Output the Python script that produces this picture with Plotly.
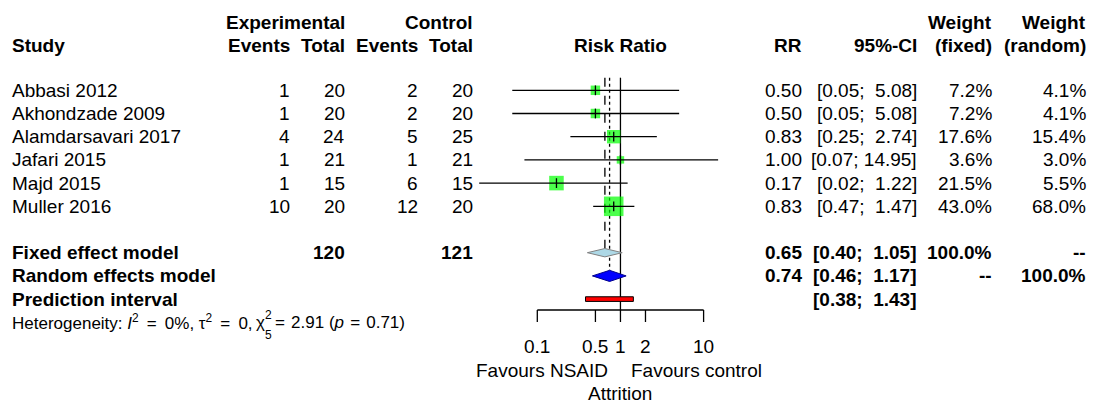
import math
import plotly.graph_objects as go

# ---- study-level data ----
studies = ["Abbasi 2012", "Akhondzade 2009", "Alamdarsavari 2017",
           "Jafari 2015", "Majd 2015", "Muller 2016"]
exp_events = [1, 1, 4, 1, 1, 10]
exp_total = [20, 20, 24, 21, 15, 20]
ctrl_events = [2, 2, 5, 1, 6, 12]
ctrl_total = [20, 20, 25, 21, 15, 20]
rr = [0.50, 0.50, 0.83, 1.00, 0.17, 0.83]
ci_low = [0.05, 0.05, 0.25, 0.07, 0.02, 0.47]
ci_high = [5.08, 5.08, 2.74, 14.95, 1.22, 1.47]
w_fixed = [7.2, 7.2, 17.6, 3.6, 21.5, 43.0]
w_random = [4.1, 4.1, 15.4, 3.0, 5.5, 68.0]

# ---- pooled estimates ----
fixed_rr, fixed_lo, fixed_hi = 0.65, 0.40, 1.05
random_rr, random_lo, random_hi = 0.74, 0.46, 1.17
pred_lo, pred_hi = 0.38, 1.43
fixed_exp_total, fixed_ctrl_total = 120, 121

# ---- scale ticks ----
tick_vals = [0.1, 0.5, 1, 2, 10]
tick_text = ["0.1", "0.5", "1", "2", "10"]

W, H = 1094, 403
Y0, DY = 90.3, 23.2          # pixel of first study row, row spacing
AX_L, AX_R = 537.3, 703.6    # pixel span of the 0.1 .. 10 scale


def row_of(px):
    return (px - Y0) / DY


FONT = "Liberation Sans, Arial, sans-serif"
FS = 19
BLACK = "black"

fig = go.Figure()

rows = list(range(len(studies)))

# vertical reference lines (no effect, fixed, random)
top = row_of(77.7)
axis_row = row_of(310)
fig.add_trace(go.Scatter(x=[1, 1], y=[top, axis_row], mode="lines",
                         line=dict(color=BLACK, width=1.3), hoverinfo="skip"))
fig.add_trace(go.Scatter(x=[fixed_rr, fixed_rr], y=[top, 7 - 0.18], mode="lines",
                         line=dict(color=BLACK, width=1.3, dash="dash"), hoverinfo="skip"))
fig.add_trace(go.Scatter(x=[random_rr, random_rr], y=[top, 8 - 0.24], mode="lines",
                         line=dict(color=BLACK, width=1.3, dash="dot"), hoverinfo="skip"))

# study squares, area proportional to fixed-effect weight
sizes = [2.6 * w ** 0.5 + 2.5 for w in w_fixed]
fig.add_trace(go.Scatter(x=rr, y=rows, mode="markers",
                         marker=dict(symbol="square", size=sizes, color="#00ff00",
                                     line=dict(width=0)), hoverinfo="skip"))

# confidence interval lines
cx, cy = [], []
for lo, hi, r in zip(ci_low, ci_high, rows):
    cx += [lo, hi, None]
    cy += [r, r, None]
fig.add_trace(go.Scatter(x=cx, y=cy, mode="lines",
                         line=dict(color=BLACK, width=1.3), hoverinfo="skip"))
fig.add_trace(go.Scatter(x=rr, y=rows, mode="markers",
                         marker=dict(symbol="line-ns", size=7,
                                     line=dict(color=BLACK, width=1.3)),
                         hoverinfo="skip"))

# pooled diamonds
fig.add_trace(go.Scatter(x=[fixed_lo, fixed_rr, fixed_hi, fixed_rr, fixed_lo],
                         y=[7, 7 - 0.18, 7, 7 + 0.18, 7], mode="lines", fill="toself",
                         fillcolor="lightblue", line=dict(color="gray", width=1),
                         hoverinfo="skip"))
fig.add_trace(go.Scatter(x=[random_lo, random_rr, random_hi, random_rr, random_lo],
                         y=[8, 8 - 0.24, 8, 8 + 0.24, 8], mode="lines", fill="toself",
                         fillcolor="blue", line=dict(color="#00008b", width=1),
                         hoverinfo="skip"))
# prediction interval bar
ph = 0.1
fig.add_trace(go.Scatter(x=[pred_lo, pred_hi, pred_hi, pred_lo, pred_lo],
                         y=[9 - ph, 9 - ph, 9 + ph, 9 + ph, 9 - ph], mode="lines",
                         fill="toself", fillcolor="red", line=dict(color=BLACK, width=1),
                         hoverinfo="skip"))

# risk-ratio scale: baseline and tick marks
tick_end = row_of(322)
ax_x = [tick_vals[0], tick_vals[-1], None]
ax_y = [axis_row, axis_row, None]
for v in tick_vals:
    ax_x += [v, v, None]
    ax_y += [axis_row, tick_end, None]
fig.add_trace(go.Scatter(x=ax_x, y=ax_y, mode="lines",
                         line=dict(color=BLACK, width=1.3), hoverinfo="skip"))

ann = []


def txt(s, px, r, anchor="right", bold=False, size=FS):
    if bold:
        s = "<b>" + s + "</b>"
    ann.append(dict(text=s, x=px / W, xref="paper", y=r, yref="y",
                    xanchor=anchor, yanchor="middle", showarrow=False,
                    borderpad=0, borderwidth=0,
                    font=dict(family=FONT, size=size, color=BLACK)))


# tick labels placed on the data scale
for v, t in zip(tick_vals, tick_text):
    ann.append(dict(text=t, x=math.log10(v), xref="x", y=row_of(346.7), yref="y",
                    xanchor="center", yanchor="middle", showarrow=False,
                    borderpad=0, borderwidth=0,
                    font=dict(family=FONT, size=FS, color=BLACK)))

h1, h2 = row_of(22), row_of(45)
# headers
txt("Experimental", 345, h1, bold=True)
txt("Control", 473, h1, bold=True)
txt("Weight", 992, h1, bold=True)
txt("Weight", 1086, h1, bold=True)
txt("Study", 12, h2, "left", bold=True)
txt("Events", 290, h2, bold=True)
txt("Total", 345, h2, bold=True)
txt("Events", 418, h2, bold=True)
txt("Total", 473, h2, bold=True)
txt("Risk Ratio", 620, h2, "center", bold=True)
txt("RR", 802, h2, bold=True)
txt("95%-CI", 917, h2, bold=True)
txt("(fixed)", 992, h2, bold=True)
txt("(random)", 1086, h2, bold=True)


def ci_str(lo, hi):
    a, b = f"{lo:.2f}", f"{hi:.2f}"
    pad = "\u00a0" * (1 + max(0, 5 - len(b)))
    return f"[{a};{pad}{b}]"


for i, r in enumerate(rows):
    txt(studies[i], 12, r, "left")
    txt(str(exp_events[i]), 290, r)
    txt(str(exp_total[i]), 345, r)
    txt(str(ctrl_events[i]), 418, r)
    txt(str(ctrl_total[i]), 473, r)
    txt(f"{rr[i]:.2f}", 802, r)
    txt(ci_str(ci_low[i], ci_high[i]), 917, r)
    txt(f"{w_fixed[i]:.1f}%", 992, r)
    txt(f"{w_random[i]:.1f}%", 1086, r)

# pooled rows
txt("Fixed effect model", 12, 7, "left", bold=True)
txt(str(fixed_exp_total), 345, 7, bold=True)
txt(str(fixed_ctrl_total), 473, 7, bold=True)
txt(f"{fixed_rr:.2f}", 802, 7, bold=True)
txt(ci_str(fixed_lo, fixed_hi), 917, 7, bold=True)
txt("100.0%", 992, 7, bold=True)
txt("--", 1086, 7, bold=True)

txt("Random effects model", 12, 8, "left", bold=True)
txt(f"{random_rr:.2f}", 802, 8, bold=True)
txt(ci_str(random_lo, random_hi), 917, 8, bold=True)
txt("--", 992, 8, bold=True)
txt("100.0%", 1086, 8, bold=True)

txt("Prediction interval", 12, 9, "left", bold=True)
txt(ci_str(pred_lo, pred_hi), 917, 9, bold=True)

# heterogeneity statistics (chi-square symbol with stacked df and power)
HS = 17
EQ = "\u00a0\u2009=\u2009\u00a0"
txt(f"Heterogeneity: <i>I</i><sup>2</sup>{EQ}0%, τ<sup>2</sup>{EQ}0,", 12, 10, "left", size=HS)
txt("χ", 260, 10, "center", size=HS)
txt("2", 268, row_of(315), "center", size=12)
txt("5", 268, row_of(334.5), "center", size=12)
txt("=\u200a 2.91 (<i>p</i>\u00a0\u200a=\u200a\u00a00.71)", 275, 10, "left", size=HS)

# scale captions
txt("Favours NSAID", 608, row_of(370.7), "right")
txt("Favours control", 631, row_of(370.7), "left")
txt("Attrition", 620, row_of(393), "center")

dec = (AX_R - AX_L) / 2
log_left = -1 - AX_L / dec
log_right = 1 + (W - AX_R) / dec

fig.update_layout(
    width=W, height=H, margin=dict(l=0, r=0, t=0, b=0, pad=0, autoexpand=False),
    paper_bgcolor="white", plot_bgcolor="white", showlegend=False,
    annotations=ann,
    xaxis=dict(type="log", range=[log_left, log_right], visible=False,
               domain=[0, 1], automargin=False),
    yaxis=dict(range=[row_of(H), row_of(0)], visible=False, automargin=False),
)

fig.write_html("out.html")
